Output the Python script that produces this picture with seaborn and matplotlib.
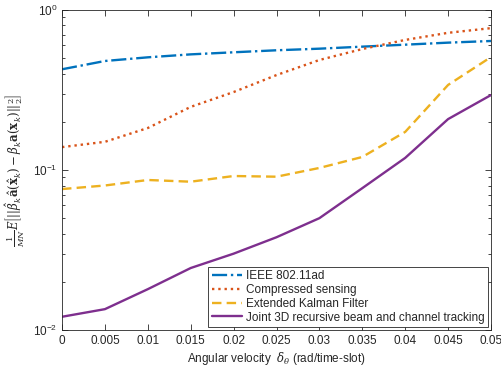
import numpy as np
import pandas as pd
import matplotlib
matplotlib.use("Agg")
import matplotlib.pyplot as plt
import matplotlib.ticker as mticker
import seaborn as sns

# 데이터
velocity = [0, 0.005, 0.01, 0.015, 0.02, 0.025, 0.03, 0.035, 0.04, 0.045, 0.05]
ieee = [0.426, 0.48, 0.506, 0.528, 0.544, 0.56, 0.573, 0.59, 0.607, 0.625, 0.64]
cs = [0.139, 0.150, 0.183, 0.248, 0.307, 0.392, 0.487, 0.57, 0.65, 0.72, 0.77]
ekf = [0.076, 0.080, 0.0866, 0.0845, 0.0917, 0.0908, 0.103, 0.1206, 0.173, 0.34, 0.508]
joint = [0.0121, 0.0135, 0.018, 0.0244, 0.030, 0.038, 0.050, 0.077, 0.119, 0.208, 0.294]

labels = ["IEEE 802.11ad", "Compressed sensing", "Extended Kalman Filter",
          "Joint 3D recursive beam and channel tracking"]
colors = ["#0072BD", "#D95319", "#EDB120", "#7E2F8E"]
styles = ["-.", ":", (0, (4, 2.2)), "-"]

sns.set_theme(style="ticks")
plt.rcParams['font.family'] = ['Liberation Sans', 'DejaVu Sans']
plt.rcParams['mathtext.fontset'] = 'dejavuserif'

fig = plt.figure(figsize=(5.01, 3.67), dpi=100)
ax = fig.add_axes([0.1238, 0.1008, 0.8562, 0.872])

for vals, lab, col, ls in zip([ieee, cs, ekf, joint], labels, colors, styles):
    df = pd.DataFrame({'v': velocity, 'y': vals})
    sns.lineplot(data=df, x='v', y='y', ax=ax, color=col, linestyle=ls,
                 linewidth=1.7, label=lab)

ax.set_yscale('log')
ax.set_xlim(0, 0.05)
ax.set_ylim(0.01, 1)
ax.set_xticks(velocity)
ax.xaxis.set_major_formatter(mticker.FuncFormatter(lambda v, p: f"{v:g}"))

ax.tick_params(which='both', direction='in', top=True, right=True,
               labelsize=8.5, colors='#262626', width=0.6)
ax.tick_params(which='major', length=4)
ax.tick_params(which='minor', length=2)
for sp in ax.spines.values():
    sp.set_linewidth(0.6)
    sp.set_color('#262626')

ax.set_xlabel(r"Angular velocity  $\delta_\theta$ (rad/time-slot)", fontsize=8.5,
              color='#262626', labelpad=2)
ax.set_ylabel(r"$\frac{1}{MN}E\left[||\hat{\beta}_k\hat{\mathbf{a}}(\hat{\mathbf{x}}_k)-\beta_k\mathbf{a}(\mathbf{x}_k)||_2^2\right]$",
              fontsize=8.5, color='#262626', labelpad=4)

leg = ax.legend(loc='lower right', fontsize=8.5, frameon=True, fancybox=False,
                edgecolor='#262626', framealpha=1, borderaxespad=0.25,
                handlelength=2.6, handletextpad=0.3, labelspacing=0.15,
                borderpad=0.3)
leg.get_frame().set_linewidth(0.6)

fig.savefig("out.png", dpi=100)
